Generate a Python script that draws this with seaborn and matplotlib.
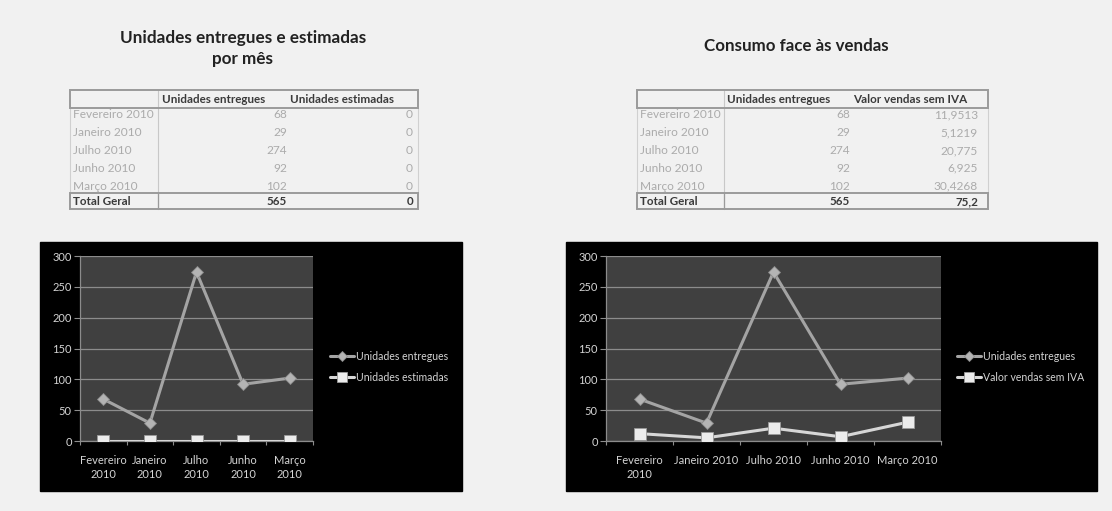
import matplotlib
matplotlib.use("Agg")
import matplotlib.pyplot as plt
from matplotlib.patches import Rectangle
import pandas as pd
import seaborn as sns

# ---- data -------------------------------------------------------------
months = ["Fevereiro 2010", "Janeiro 2010", "Julho 2010", "Junho 2010", "Março 2010"]
units_delivered = [68, 29, 274, 92, 102]
units_estimated = [0, 0, 0, 0, 0]
sales_no_vat = [11.9513, 5.1219, 20.775, 6.925, 30.4268]

left_title = "Unidades entregues e estimadas\npor mês"
right_title = "Consumo face às vendas"
col_delivered = "Unidades entregues"
col_estimated = "Unidades estimadas"
col_sales = "Valor vendas sem IVA"
total_label = "Total Geral"
y_ticks = [0, 50, 100, 150, 200, 250, 300]

W, H = 1112, 511
BG = "#f1f1f1"
FONT = ["Lato", "DejaVu Sans"]

sns.set_theme(style="dark")
plt.rcParams["font.family"] = FONT

fig = plt.figure(figsize=(W / 100, H / 100), dpi=100, facecolor=BG)

# canvas axes in pixel units for titles, tables and chart frames
cv = fig.add_axes([0, 0, 1, 1])
cv.set_xlim(0, W)
cv.set_ylim(H, 0)
cv.axis("off")
cv.add_patch(Rectangle((0, 0), W, H, color=BG, zorder=0))


def fmt(v):
    v = round(v, 4)
    if float(v).is_integer():
        return str(int(v))
    return str(v).replace(".", ",")


# ---- titles -----------------------------------------------------------
cv.text(243, 48.5, left_title, ha="center", va="center", fontsize=12.3,
        fontweight="bold", color="#222222", linespacing=1.45)
cv.text(796, 46, right_title, ha="center", va="center", fontsize=12.2,
        fontweight="bold", color="#222222")


# ---- pivot tables -----------------------------------------------------
def draw_table(x0, x1, xsep, hdr_x, val_right, rows2, rows3, tot2, tot3, head2, head3):
    top, hdr_bot, tot_top, bot = 90, 108, 193, 209
    row_y = [115, 133, 150.5, 168, 186]
    cv.plot([x0, x0], [hdr_bot, tot_top], color="#d0d0d0", lw=0.8, zorder=2)
    cv.plot([x1, x1], [hdr_bot, tot_top], color="#d0d0d0", lw=0.8, zorder=2)
    cv.plot([xsep, xsep], [top, bot], color="#c8c8c8", lw=0.8, zorder=2)
    # header and total boxes
    for y0, y1 in [(top, hdr_bot), (tot_top, bot)]:
        cv.add_patch(Rectangle((x0, y0), x1 - x0, y1 - y0, fill=False,
                               ec="#9a9a9a", lw=1.4, zorder=3))
    cv.plot([xsep, xsep], [tot_top, bot], color="#9a9a9a", lw=0.9, zorder=3)
    cv.text(hdr_x[0], (top + hdr_bot) / 2 + 0.5, head2, ha="left", va="center",
            fontsize=8.4, fontweight="bold", color="#3a3a3a")
    cv.text(hdr_x[1], (top + hdr_bot) / 2 + 0.5, head3, ha="left", va="center",
            fontsize=8.4, fontweight="bold", color="#3a3a3a")
    clip = Rectangle((x0, top), xsep - x0 - 1, bot - top, transform=cv.transData)
    for y, m, a, b in zip(row_y, months, rows2, rows3):
        t = cv.text(x0 + 3, y, m, ha="left", va="center", fontsize=8.6, color="#ababab")
        t.set_clip_path(clip)
        cv.text(val_right[0], y, a, ha="right", va="center", fontsize=8.6, color="#ababab")
        cv.text(val_right[1], y, b, ha="right", va="center", fontsize=8.6, color="#ababab")
    ty = (tot_top + bot) / 2 + 0.5
    cv.text(x0 + 3, ty, total_label, ha="left", va="center", fontsize=8.4,
            fontweight="bold", color="#3a3a3a")
    cv.text(val_right[0], ty, tot2, ha="right", va="center", fontsize=8.4,
            fontweight="bold", color="#3a3a3a")
    cv.text(val_right[1], ty, tot3, ha="right", va="center", fontsize=8.4,
            fontweight="bold", color="#3a3a3a")


draw_table(70, 418, 158, (162, 290), (287, 413),
           [fmt(v) for v in units_delivered], [fmt(v) for v in units_estimated],
           fmt(sum(units_delivered)), fmt(sum(units_estimated)),
           col_delivered, col_estimated)
draw_table(637, 988, 724, (727, 853), (850, 978),
           [fmt(v) for v in units_delivered], [fmt(v) for v in sales_no_vat],
           fmt(sum(units_delivered)), fmt(sum(sales_no_vat)),
           col_delivered, col_sales)

# ---- chart frames -----------------------------------------------------
cv.add_patch(Rectangle((40, 242), 422, 249, color="black", zorder=1))
cv.add_patch(Rectangle((566, 242), 531, 249, color="black", zorder=1))


def px_axes(x0, y0, x1, y1):
    return fig.add_axes([x0 / W, 1 - y1 / H, (x1 - x0) / W, (y1 - y0) / H])


LINE1 = "#a4a4a4"
LINE2 = "#d6d6d6"
TXT = "#d4d4d4"


def line_chart(ax, second, second_label, xlabels, leg_x):
    pos = list(range(len(months)))
    df = pd.DataFrame({"pos": pos, "a": units_delivered, "b": second})
    sns.lineplot(data=df, x="pos", y="a", ax=ax, color=LINE1, lw=2.2,
                 marker="D", markersize=6.5, markerfacecolor="#b4b4b4",
                 markeredgecolor="#8a8a8a", markeredgewidth=0.6, zorder=4,
                 label=col_delivered, legend=False)
    sns.lineplot(data=df, x="pos", y="b", ax=ax, color=LINE2, lw=2.2,
                 marker="s", markersize=9, markerfacecolor="#ececec",
                 markeredgecolor="#9a9a9a", markeredgewidth=0.6, zorder=5,
                 label=second_label, legend=False)
    ax.set_facecolor("#404040")
    ax.set_xlim(-0.5, len(months) - 0.5)
    ax.set_ylim(0, 300)
    ax.set_yticks(y_ticks)
    ax.set_yticklabels([str(v) for v in y_ticks])
    ax.yaxis.grid(True, color="#8c8c8c", lw=0.9)
    ax.xaxis.grid(False)
    ax.set_xticks(pos)
    ax.set_xticklabels(xlabels, linespacing=1.35)
    ax.set_xticks([p - 0.5 for p in pos] + [len(months) - 0.5], minor=True)
    ax.tick_params(axis="x", which="major", length=0, pad=10, labelsize=8,
                   labelcolor=TXT)
    ax.tick_params(axis="x", which="minor", length=3, color="#8c8c8c", width=0.8,
                   direction="out", bottom=True)
    ax.tick_params(axis="y", length=4, color="#8c8c8c", width=0.8, left=True,
                   direction="out", labelsize=8, labelcolor=TXT, pad=2)
    ax.set_xlabel("")
    ax.set_ylabel("")
    for side in ["top", "right"]:
        ax.spines[side].set_visible(False)
    for side in ["left", "bottom"]:
        ax.spines[side].set_visible(True)
        ax.spines[side].set_color("#8c8c8c")
        ax.spines[side].set_linewidth(0.9)
    handles, labels = ax.get_legend_handles_labels()
    fig.legend(handles, labels, loc="center left",
               bbox_to_anchor=(leg_x / W, 1 - 367 / H), frameon=False,
               fontsize=7.6, labelcolor=TXT, handlelength=2.3, handletextpad=0.2,
               labelspacing=0.95, markerscale=0.75, borderaxespad=0,
               borderpad=0)


ax_left = px_axes(80, 256, 313, 441)
line_chart(ax_left, units_estimated, col_estimated,
           [m.replace(" ", "\n") for m in months], 330)

ax_right = px_axes(606, 256, 941, 441)
right_labels = [m.replace(" ", "\n") if len(m) > 13 else m for m in months]
line_chart(ax_right, sales_no_vat, col_sales, right_labels, 957)

fig.savefig("out.png", dpi=100, facecolor=BG)
